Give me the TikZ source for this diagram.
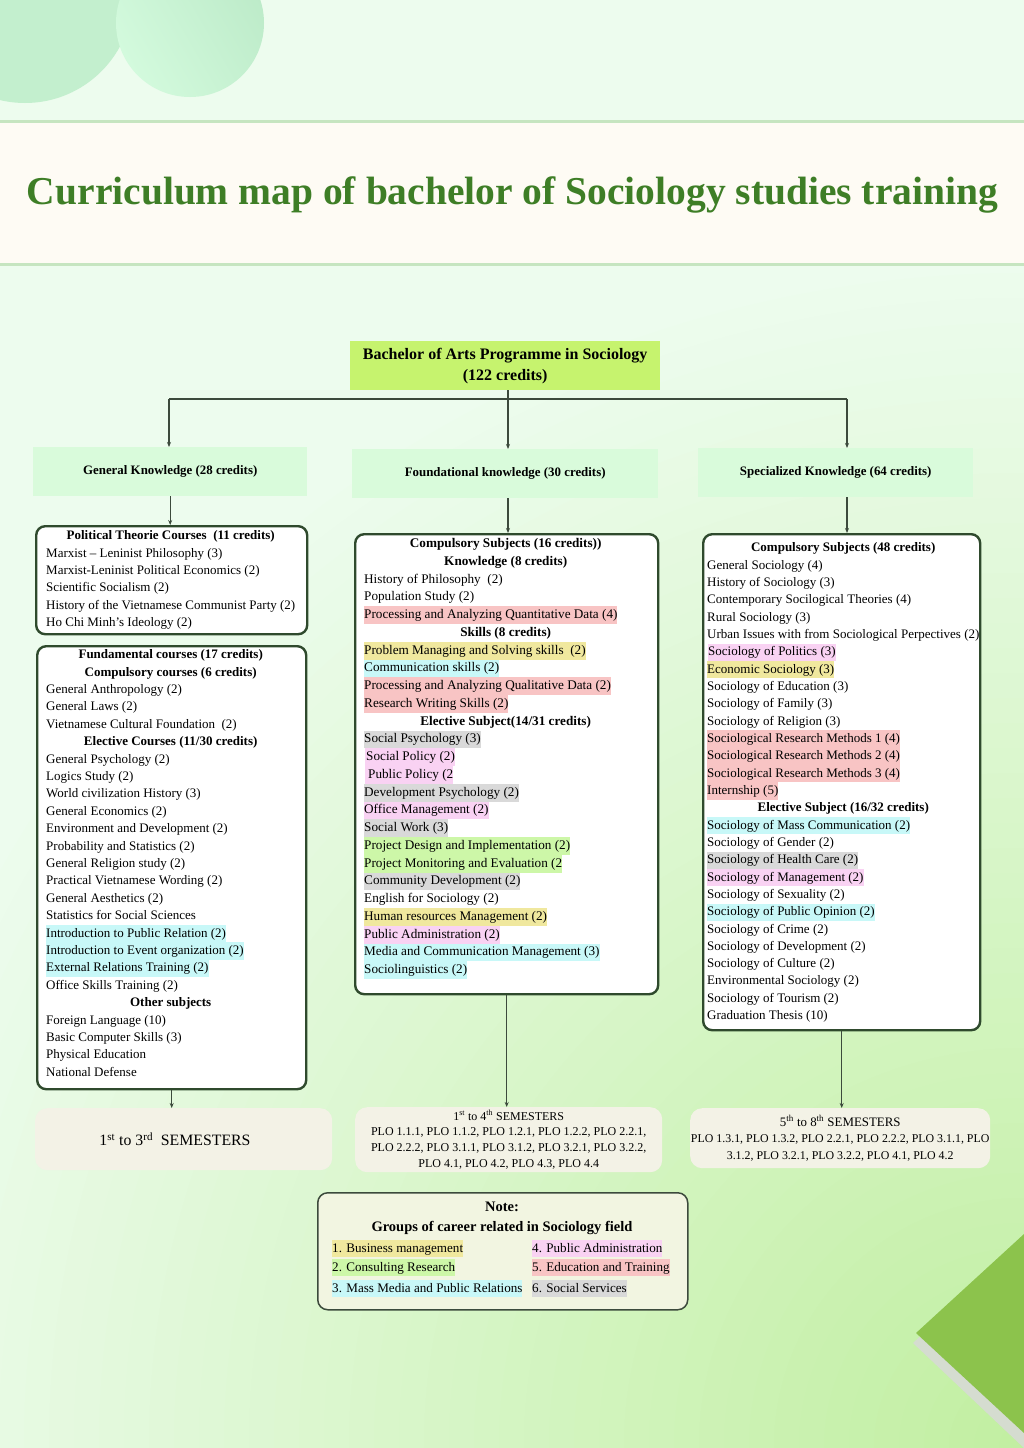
\documentclass[tikz,border=0pt]{standalone}
\usepackage{fontspec}
\usepackage{graphicx}
\setmainfont{Liberation Serif}
\usetikzlibrary{arrows.meta,calc}
\definecolor{bgmint}{HTML}{EDFCEE}
\definecolor{glow}{HTML}{C2EFA2}
\definecolor{cream}{HTML}{FEFBF4}
\definecolor{bandline}{HTML}{C6E5C0}
\definecolor{titlegreen}{HTML}{3E7E26}
\definecolor{circA}{HTML}{C3EFCE}
\definecolor{circB1}{HTML}{D3FADD}
\definecolor{circB2}{HTML}{BDEBC9}
\definecolor{topfill}{HTML}{C6F36E}
\definecolor{ltwofill}{HTML}{D9FBDB}
\definecolor{boxline}{HTML}{2F4A2D}
\definecolor{connc}{HTML}{3C4A3C}
\definecolor{semfill}{HTML}{F3F2E6}
\definecolor{notefill}{HTML}{F2F5E1}
\definecolor{hyel}{HTML}{F0E89E}
\definecolor{hgrn}{HTML}{CDF7A8}
\definecolor{hcyn}{HTML}{C8F8F8}
\definecolor{hpnk}{HTML}{F9D2F3}
\definecolor{hsal}{HTML}{F8C4C4}
\definecolor{hgry}{HTML}{D9D9D9}
\definecolor{leafgreen}{HTML}{8CC34C}
\definecolor{leafshadow}{HTML}{D5DCD0}
\newcommand{\hlt}[2]{{\fboxsep=0pt\colorbox{#1}{\strut #2}}}
\newcommand{\hd}[2]{\makebox[#1][c]{\strut\textbf{#2}}}
\begin{document}
\begin{tikzpicture}[x=1pt,y=-1pt,
  cbox/.style={draw=boxline, line width=2.4pt, rounded corners=9pt, fill=white, anchor=north west, inner sep=0pt},
  ltwo/.style={fill=ltwofill, anchor=north west, inner sep=0pt, font=\fontsize{12.9}{15}\selectfont\bfseries},
  btxt/.style={anchor=north west, inner sep=0pt, align=left},
  semb/.style={fill=semfill, rounded corners=12pt, anchor=north west, inner sep=0pt, align=center},
  conn/.style={draw=connc, line width=1.1pt},
  arr/.style={conn, -{Stealth[length=5pt,width=4pt]}},
  itm/.style={anchor=base west, inner sep=0pt, font=\fontsize{13.1}{17}\selectfont}
]
\useasboundingbox (0,0) rectangle (1024,1448);
% background
\fill[bgmint] (0,0) rectangle (1024,1448);
\begin{scope}
  \clip (0,0) rectangle (1024,1448);
  \foreach \i in {0,...,47}{
    \pgfmathsetmacro{\rr}{1200-\i*25}
    \pgfmathsetmacro{\pp}{\i*100/47}
    \fill[glow!\pp!bgmint] (1024,1448) circle[radius=\rr];
  }
  \fill[circA] (25,-5) circle[radius=108];
  \shade[left color=circB1, right color=circB2, shading angle=120] (190,23) circle[radius=74];
\end{scope}
% title band
\fill[cream] (0,121) rectangle (1024,264);
\draw[bandline, line width=3pt] (0,121) -- (1024,121);
\draw[bandline, line width=3pt] (0,264) -- (1024,264);
\node[inner sep=0pt, text=titlegreen] (title) at (512.5,195)
  {\resizebox{971pt}{!}{\fontsize{40}{48}\selectfont\bfseries Curriculum map of bachelor of Sociology studies training}};
% leaf decoration
\fill[leafshadow] (913,1343) -- (1024,1240) -- (1024,1448) -- cycle;
\fill[leafgreen] (916,1333) -- (1024,1234) -- (1024,1433) -- cycle;

% top box
\node[fill=topfill, anchor=north west, inner sep=0pt, minimum width=310pt, minimum height=49pt,
  align=center, font=\fontsize{16}{21}\selectfont\bfseries] (top) at (350,341)
  {\raisebox{-2pt}{Bachelor of Arts Programme in Sociology}\\\raisebox{-2pt}{(122 credits)}};
% level two
\node[ltwo, minimum width=274pt, minimum height=49pt] (gk) at (33,447) {General Knowledge (28 credits)};
\node[ltwo, minimum width=306pt, minimum height=49pt] (fk) at (352,449) {Foundational knowledge (30 credits)};
\node[ltwo, minimum width=275pt, minimum height=49pt] (sk) at (698,448) {Specialized Knowledge (64 credits)};
% connectors from top
\coordinate (hl) at (169,399);
\coordinate (hm) at (508,399);
\coordinate (hr) at (847,399);
\draw[conn] (hm |- top.south) -- (hm);
\draw[conn, line width=2.2pt] (hl) -- (hr);
\draw[arr] (hl) -- (hl |- gk.north);
\draw[arr] (hm) -- (hm |- fk.north);
\draw[arr] (hr) -- (hr |- sk.north);

% content boxes
\node[cbox, minimum width=271pt, minimum height=108pt] (polA) at (35,525) {};
\node[cbox, minimum width=269pt, minimum height=443pt] (fundB) at (36,645) {};
\node[cbox, minimum width=303pt, minimum height=460pt] (foundC) at (354,533) {};
\node[cbox, minimum width=277pt, minimum height=496pt] (specD) at (702,533) {};

\draw[arr] (gk.south) -- (gk.south |- polA.north);
\draw[arr] (fk.south -| hm) -- (hm |- foundC.north);
\draw[arr] (sk.south -| hr) -- (hr |- specD.north);

% box A text
\node[btxt, font=\fontsize{13}{17.4}\selectfont] (polAt) at (46,527.3) {%
\hd{249pt}{Political Theorie Courses~~(11 credits)}\\
\strut Marxist -- Leninist Philosophy (3)\\
\strut Marxist-Leninist Political Economics (2)\\
\strut Scientific Socialism (2)\\
\strut History of the Vietnamese Communist Party (2)\\
\strut Ho Chi Minh’s Ideology (2)};

% box B text
\node[btxt, font=\fontsize{13}{17.4}\selectfont] (fundBt) at (46,646.3) {%
\hd{249pt}{Fundamental courses (17 credits)}\\
\hd{249pt}{Compulsory courses (6 credits)}\\
\strut General Anthropology (2)\\
\strut General Laws (2)\\
\strut Vietnamese Cultural Foundation~~(2)\\
\hd{249pt}{Elective Courses (11/30 credits)}\\
\strut General Psychology (2)\\
\strut Logics Study (2)\\
\strut World civilization History (3)\\
\strut General Economics (2)\\
\strut Environment and Development (2)\\
\strut Probability and Statistics (2)\\
\strut General Religion study (2)\\
\strut Practical Vietnamese Wording (2)\\
\strut General Aesthetics (2)\\
\strut Statistics for Social Sciences\\
\hlt{hcyn}{Introduction to Public Relation (2)}\\
\hlt{hcyn}{Introduction to Event organization (2)}\\
\hlt{hcyn}{External Relations Training (2)}\\
\strut Office Skills Training (2)\\
\hd{249pt}{Other subjects}\\
\strut Foreign Language (10)\\
\strut Basic Computer Skills (3)\\
\strut Physical Education\\
\strut National Defense};

% box C text
\node[btxt, font=\fontsize{13.2}{17.75}\selectfont] (foundCt) at (364,535.1) {%
\hd{283pt}{Compulsory Subjects (16 credits))}\\
\hd{283pt}{Knowledge (8 credits)}\\
\strut History of Philosophy~~(2)\\
\strut Population Study (2)\\
\hlt{hsal}{Processing and Analyzing Quantitative Data (4)}\\
\hd{283pt}{Skills (8 credits)}\\
\hlt{hyel}{Problem Managing and Solving skills~~(2)}\\
\hlt{hcyn}{Communication skills (2)}\\
\hlt{hsal}{Processing and Analyzing Qualitative Data (2)}\\
\hlt{hsal}{Research Writing Skills (2)}\\
\hd{283pt}{Elective Subject(14/31 credits)}\\
\hlt{hgry}{Social Psychology (3)}\\
\hspace{1pt}\hlt{hpnk}{\hspace{1pt}Social Policy (2)}\\
\hspace{1pt}\hlt{hpnk}{\hspace{3pt}Public Policy (2}\\
\hlt{hgry}{Development Psychology (2)}\\
\hlt{hpnk}{Office Management (2)}\\
\hlt{hgry}{Social Work (3)}\\
\hlt{hgrn}{Project Design and Implementation (2)}\\
\hlt{hgrn}{Project Monitoring and Evaluation (2}\\
\hlt{hgry}{Community Development (2)}\\
\strut English for Sociology (2)\\
\hlt{hyel}{Human resources Management (2)}\\
\hlt{hpnk}{Public Administration (2)}\\
\hlt{hcyn}{Media and Communication Management (3)}\\
\hlt{hcyn}{Sociolinguistics (2)}};

% box D text
\node[btxt, font=\fontsize{13}{17.33}\selectfont] (specDt) at (707,539.4) {%
\hd{272pt}{Compulsory Subjects (48 credits)}\\
\strut General Sociology (4)\\
\strut History of Sociology (3)\\
\strut Contemporary Socilogical Theories (4)\\
\strut Rural Sociology (3)\\
\strut Urban Issues with from Sociological Perpectives (2)\\
\hspace{1pt}\hlt{hpnk}{Sociology of Politics (3)}\\
\hlt{hyel}{Economic Sociology (3)}\\
\strut Sociology of Education (3)\\
\strut Sociology of Family (3)\\
\strut Sociology of Religion (3)\\
\hlt{hsal}{Sociological Research Methods 1 (4)}\\
\hlt{hsal}{Sociological Research Methods 2 (4)}\\
\hlt{hsal}{Sociological Research Methods 3 (4)}\\
\hlt{hsal}{Internship (5)}\\
\hd{272pt}{Elective Subject (16/32 credits)}\\
\hlt{hcyn}{Sociology of Mass Communication (2)}\\
\strut Sociology of Gender (2)\\
\hlt{hgry}{Sociology of Health Care (2)}\\
\hlt{hpnk}{Sociology of Management (2)}\\
\strut Sociology of Sexuality (2)\\
\hlt{hcyn}{Sociology of Public Opinion (2)}\\
\strut Sociology of Crime (2)\\
\strut Sociology of Development (2)\\
\strut Sociology of Culture (2)\\
\strut Environmental Sociology (2)\\
\strut Sociology of Tourism (2)\\
\strut Graduation Thesis (10)};

% semester boxes
\node[semb, minimum width=297pt, minimum height=62pt] (sem1) at (35,1108) {};
\node[inner sep=0pt, font=\fontsize{15.8}{18}\selectfont] (sem1t) at (175,1139)
  {1\textsuperscript{st} to 3\textsuperscript{rd}~~SEMESTERS};
\node[semb, minimum width=307pt, minimum height=65pt, font=\fontsize{12}{15.7}\selectfont] (sem2) at (355,1107)
  {1\textsuperscript{st} to 4\textsuperscript{th} SEMESTERS\\
   PLO 1.1.1, PLO 1.1.2, PLO 1.2.1, PLO 1.2.2, PLO 2.2.1,\\
   PLO 2.2.2, PLO 3.1.1, PLO 3.1.2, PLO 3.2.1, PLO 3.2.2,\\
   PLO 4.1, PLO 4.2, PLO 4.3, PLO 4.4};
\node[semb, minimum width=300pt, minimum height=60pt, font=\fontsize{11.9}{16.5}\selectfont] (sem3) at (690,1108)
  {{\fontsize{12.9}{16.5}\selectfont 5\textsuperscript{th} to 8\textsuperscript{th} SEMESTERS}\\
   PLO 1.3.1, PLO 1.3.2, PLO 2.2.1, PLO 2.2.2, PLO 3.1.1, PLO\\
   3.1.2, PLO 3.2.1, PLO 3.2.2, PLO 4.1, PLO 4.2};

\draw[arr] (fundB.south) -- (fundB.south |- sem1.north);
\draw[arr] (foundC.south) -- (foundC.south |- sem2.north);
\draw[arr] (specD.south) -- (specD.south |- sem3.north);

% note box
\node[draw=connc, line width=1.5pt, fill=notefill, rounded corners=10pt, anchor=north west,
  inner sep=0pt, minimum width=370pt, minimum height=117pt] (note) at (317,1192) {};
\node[inner sep=0pt, align=center, font=\fontsize{14.5}{20}\selectfont\bfseries] (noteh) at (502,1218)
  {Note:\\Groups of career related in Sociology field};
\node[itm] (n1) at (332,1252) {\hlt{hyel}{1. Business management}};
\node[itm] (n2) at (332,1271) {\hlt{hgrn}{2. Consulting Research}};
\node[itm] (n3) at (332,1292) {\hlt{hcyn}{3. Mass Media and Public Relations}};
\node[itm] (n4) at (532,1252) {\hlt{hpnk}{4. Public Administration}};
\node[itm] (n5) at (532,1271) {\hlt{hsal}{5. Education and Training}};
\node[itm] (n6) at (532,1292) {\hlt{hgry}{6. Social Services}};
\end{tikzpicture}
\end{document}
